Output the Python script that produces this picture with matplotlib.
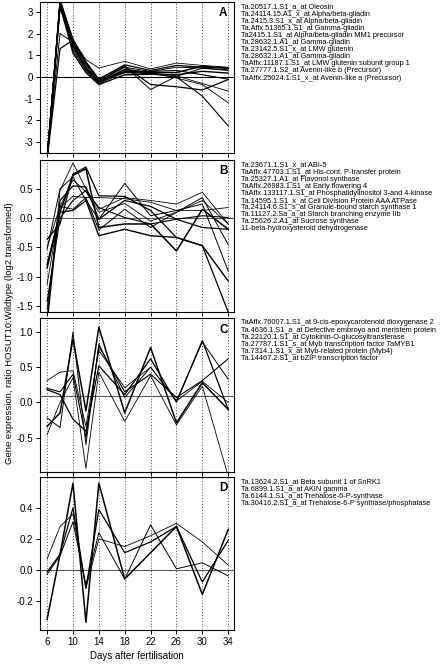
import matplotlib
matplotlib.use("Agg")
import matplotlib.pyplot as plt
import numpy as np

plt.rcParams['font.family'] = ['Liberation Sans', 'DejaVu Sans']

days = [6, 8, 10, 12, 14, 18, 22, 26, 30, 34]
tick_days = [6, 10, 14, 18, 22, 26, 30, 34]

# panel A - storage proteins
a_vals = [
    [-3.8, 3.6, 1.70, 0.80, 0.41, 0.72, 0.37, 0.64, 0.53, 0.45],
    [-3.9, 3.5, 1.60, 0.60, -0.10, 0.56, 0.30, 0.53, 0.45, 0.41],
    [-3.7, 3.4, 1.50, 0.50, -0.20, 0.45, 0.25, 0.45, 0.41, 0.33],
    [-3.8, 3.3, 1.40, 0.40, -0.25, 0.35, 0.20, 0.20, 0.50, 0.40],
    [-3.6, 3.2, 1.30, 0.30, -0.30, 0.30, 0.18, 0.05, -0.30, -0.65],
    [-3.9, 3.5, 1.75, 0.60, -0.15, 0.20, 0.15, 0.00, -0.88, -2.25],
    [-3.8, 3.3, 1.10, 0.20, -0.35, 0.10, 0.12, 0.10, 0.26, 0.18],
    [-3.7, 2.0, 1.60, 0.70, -0.20, 0.49, -0.58, 0.03, 0.40, 0.30],
    [-3.8, 1.3, 1.70, 0.70, -0.10, 0.50, -0.35, -0.45, -0.60, -0.12],
    [-3.6, 3.4, 1.20, 0.30, -0.30, 0.20, 0.20, -0.05, -0.35, -1.19],
    [-3.7, 3.2, 1.50, 0.40, -0.20, 0.25, 0.25, 0.30, 0.10, -0.10],
]
a_labels = [
    "Ta.20517.1.S1_a_at Oleosin",
    "Ta.24114.15.A1_x_at Alpha/beta-gliadin",
    "Ta.2415.3.S1_x_at Alpha/beta-gliadin",
    "Ta.Affx.51365.1.S1_at Gamma-gliadin",
    "Ta2415.1.S1_at Alpha/beta-gliadin MM1 precursor",
    "Ta.28632.1.A1_at Gamma-gliadin",
    "Ta.23142.5.S1_x_at LMW glutenin",
    "Ta.28632.1.A1_at Gamma-gliadin",
    "TaAffx.11187.1.S1_at LMW glutenin subunit group 1",
    "Ta.27777.1.S2_at Avenin-like b (Precursor)",
    "TaAffx.25024.1.S1_x_at Avenin-like a (Precursor)",
]

# panel B
b_vals = [
    [-1.70, 0.47, 0.94, 0.50, 0.15, 0.35, 0.30, 0.24, 0.44, -0.10],
    [-0.36, -0.10, 0.75, 0.87, 0.38, 0.37, 0.13, -0.33, -0.47, -1.60],
    [-0.53, 0.50, 0.70, 0.30, -0.02, 0.59, 0.04, 0.13, 0.24, -0.90],
    [-0.85, 0.10, 0.73, 0.84, -0.16, -0.10, -0.10, -0.56, 0.15, -0.19],
    [-1.13, 0.18, 0.37, 0.35, 0.35, 0.33, 0.27, 0.13, 0.13, 0.18],
    [-1.42, 0.00, 0.30, 0.47, 0.18, 0.01, -0.10, -0.02, 0.04, 0.01],
    [-0.79, 0.10, 0.13, 0.30, -0.30, -0.19, -0.30, -0.33, -0.47, -1.07],
    [-1.55, 0.20, 0.15, 0.35, -0.20, 0.15, -0.16, 0.10, 0.35, -0.45],
    [-1.80, 0.30, 0.55, 0.53, -0.02, 0.30, 0.20, -0.02, -0.16, -0.19],
    [-0.50, 0.20, 0.65, 0.45, 0.10, 0.25, -0.05, 0.10, 0.30, -0.10],
]
b_labels = [
    "Ta.23671.1.S1_x_at ABI-5",
    "TaAffx.47703.1.S1_at His-cont. P-transfer protein",
    "Ta.25327.1.A1_at Flavonol synthase",
    "TaAffx.26983.1.S1_at Early flowering 4",
    "TaAffx.133117.1.S1_at Phosphatidylinositol 3-and 4-kinase",
    "Ta.14595.1.S1_x_at Cell Division Protein AAA ATPase",
    "Ta.24114.6.S1_s_at Granule-bound starch synthase 1",
    "Ta.11127.2.Sa_a_at Starch branching enzyme IIb",
    "Ta.25626.2.A1_at Sucrose synthase",
    "11-beta-hydroxysteroid dehydrogenase",
]

# panel C
c_vals = [
    [0.31, 0.43, 0.45, -0.34, 0.74, 0.21, 0.50, 0.02, 0.30, 0.00],
    [0.18, 0.11, -0.24, -0.41, 0.52, 0.11, 0.62, 0.00, 0.88, -0.10],
    [-0.22, -0.36, 1.00, -0.60, 0.83, 0.07, 0.50, 0.02, 0.86, 0.33],
    [-0.34, -0.15, 0.90, -0.12, 1.07, -0.15, 0.78, -0.29, 0.28, -0.10],
    [-0.46, 0.00, 0.35, -0.94, 0.43, -0.27, 0.38, -0.32, 0.23, -1.05],
    [0.20, 0.15, 0.40, -0.50, 0.80, 0.15, 0.40, 0.07, 0.31, 0.62],
]
c_labels = [
    "TaAffx.76007.1.S1_at 9-cis-epoxycarotenoid dioxygenase 2",
    "Ta.4636.1.S1_a_at Defective embroyo and meristem protein",
    "Ta.22120.1.S1_at Cytokinin-O-glucosyltransferase",
    "Ta.27787.1.S1_s_at Myb transcription factor TaMYB1",
    "Ta.7314.1.S1_x_at Myb-related protein (Myb4)",
    "Ta.14467.2.S1_at bZIP transcription factor",
]

# panel D
d_vals = [
    [0.07, 0.28, 0.36, -0.12, 0.20, 0.15, 0.22, 0.30, 0.18, 0.03],
    [-0.015, 0.10, 0.40, -0.12, 0.39, 0.11, 0.18, 0.28, -0.08, 0.19],
    [-0.03, 0.09, 0.31, -0.10, 0.24, -0.06, 0.29, 0.006, 0.045, -0.04],
    [-0.32, 0.10, 0.56, -0.34, 0.56, -0.06, 0.11, 0.28, -0.16, 0.26],
]
d_labels = [
    "Ta.13624.2.S1_at Beta subunit 1 of SnRK1",
    "Ta.6899.1.S1_a_at AKIN gamma",
    "Ta.6144.1.S1_a_at Trehalose-6-P-synthase",
    "Ta.30416.2.S1_a_at Trehalose-6-P synthase/phosphatase",
]

panels = [
    ("A", a_vals, a_labels, (-3.5, 3.45), [-3, -2, -1, 0, 1, 2, 3], "%d", 0.0),
    ("B", b_vals, b_labels, (-1.6, 0.99), [-1.5, -1.0, -0.5, 0.0, 0.5], "%.1f", 0.0),
    ("C", c_vals, c_labels, (-0.99, 1.2), [-0.5, 0.0, 0.5, 1.0], "%.1f", 0.09),
    ("D", d_vals, d_labels, (-0.39, 0.6), [-0.2, 0.0, 0.2, 0.4], "%.1f", 0.0),
]
boxes = [(2, 153), (160, 312), (318, 472), (477, 630)]

W, H = 446, 666
fig = plt.figure(figsize=(W / 100, H / 100), dpi=100)

widths = [0.6, 0.9, 0.7, 1.1, 0.6, 0.8, 1.0, 0.7, 0.9, 0.6, 0.8]

for i, (letter, vals, labels, ylim, yt, fmt, hline) in enumerate(panels):
    top, bot = boxes[i]
    ax = fig.add_axes([40 / W, (H - bot) / H, 194 / W, (bot - top) / H])
    for d in tick_days:
        ax.axvline(d, color='0.25', ls=(0, (1, 2)), lw=0.7, zorder=1)
    ax.axhline(hline, color='0.35' if i else 'black', lw=0.8, zorder=1)
    for j, v in enumerate(vals):
        ax.plot(days, v, color='black', lw=widths[j % len(widths)], zorder=2)
    ax.set_xlim(4.9, 34.9)
    ax.set_ylim(*ylim)
    ax.set_yticks(yt)
    ax.set_yticklabels([fmt % t for t in yt])
    ax.set_xticks(tick_days)
    if i < 3:
        ax.set_xticklabels([])
    ax.tick_params(direction='out', length=3, width=0.7, labelsize=7, pad=2)
    for s in ax.spines.values():
        s.set_linewidth(0.8)
    ax.text(0.945, 0.925, letter, transform=ax.transAxes, fontsize=8.5,
            fontweight='bold', ha='center', va='center')
    h = bot - top
    for k, lab in enumerate(labels):
        ypx = top + 5 + 7.1 * k
        ax.text(1.036, (bot - ypx) / h, lab, transform=ax.transAxes,
                fontsize=5.3, ha='left', va='center', clip_on=False)
    if i == 3:
        ax.set_xlabel("Days after fertilisation", fontsize=7, labelpad=3)

fig.text(10 / W, 0.5, "Gene expression, ratio HOSUT10:Wildtype (log2 transformed)",
         rotation=90, fontsize=6.8, ha='center', va='center')

fig.savefig("out.png", dpi=100)
